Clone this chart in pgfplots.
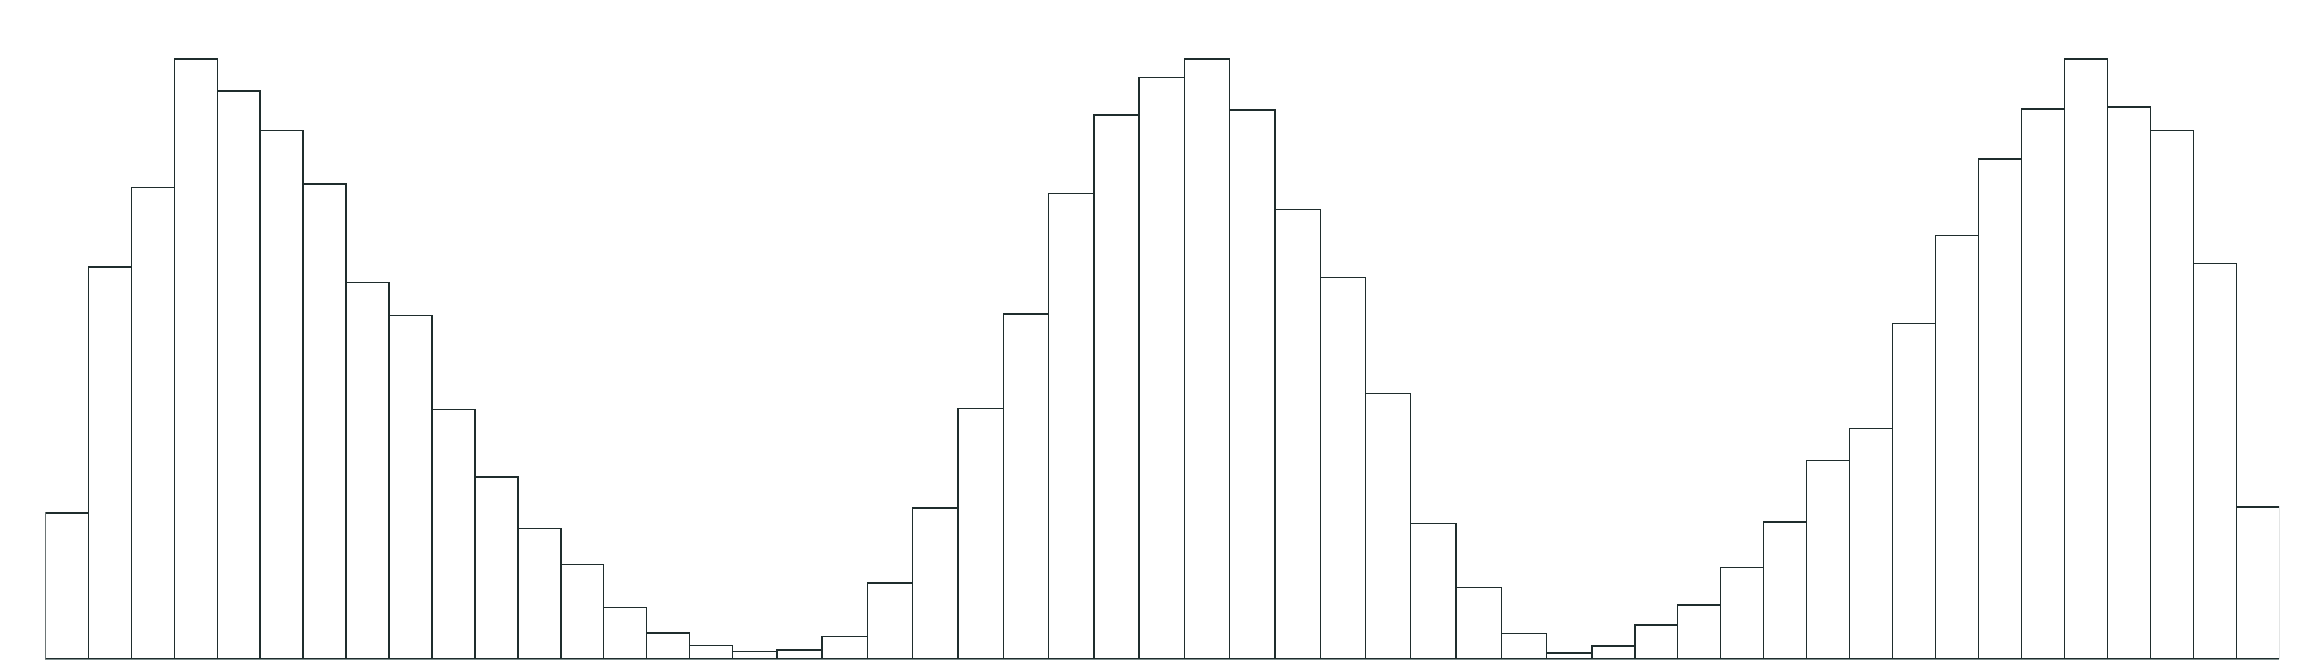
\documentclass[border=0pt]{standalone}
\usepackage{pgfplots}
\pgfplotsset{compat=1.18}

\definecolor{edge}{HTML}{1F2D2D}
\definecolor{base}{HTML}{7F8E8E}

\begin{document}
\begin{tikzpicture}
  % x in pixel units of the original, bars as intervals (left edge, height)
  \begin{axis}[
    width=558.45pt, height=150pt,
    scale only axis,
    xmin=45.4, xmax=2279.2,
    ymin=0, ymax=1405,
    enlargelimits=false,
    axis x line*=bottom,
    axis y line=none,
    x axis line style={draw=base, line width=0.6pt, -},
    xtick=\empty, ytick=\empty,
    ]
    \addplot[ybar interval, fill=white, draw=edge, line width=0.35pt] coordinates {
      (45.4,342) (88.35,918) (131.3,1104) (174.25,1405) (217.2,1330)
      (260.15,1237) (303.1,1112) (346.05,881) (389.0,804) (431.95,584)
      (474.9,426) (517.85,306) (560.8,221) (603.75,120) (646.7,61)
      (689.65,31) (732.6,18)
      (776.8,21) (822.1,52) (867.4,178) (912.6,354) (957.9,586)
      (1003.2,808) (1048.5,1090) (1093.8,1274) (1139.0,1362) (1184.3,1405)
      (1229.6,1286) (1274.9,1053) (1320.2,893) (1365.4,621) (1410.7,317)
      (1456.0,167) (1501.3,59) (1546.6,14)
      (1591.8,30) (1634.8,80) (1677.7,126) (1720.7,214) (1763.6,321)
      (1806.6,465) (1849.6,540) (1892.5,786) (1935.5,991) (1978.4,1171)
      (2021.4,1288) (2064.4,1405) (2107.3,1293) (2150.3,1237) (2193.2,926)
      (2236.2,356) (2279.2,356)
    };
  \end{axis}
  \path (current axis.south west) ++(-11.35pt,-3pt) coordinate (bbl);
  \path (current axis.north east) ++(10.2pt,14.75pt) coordinate (bbr);
  \useasboundingbox (bbl) rectangle (bbr);
\end{tikzpicture}
\end{document}
